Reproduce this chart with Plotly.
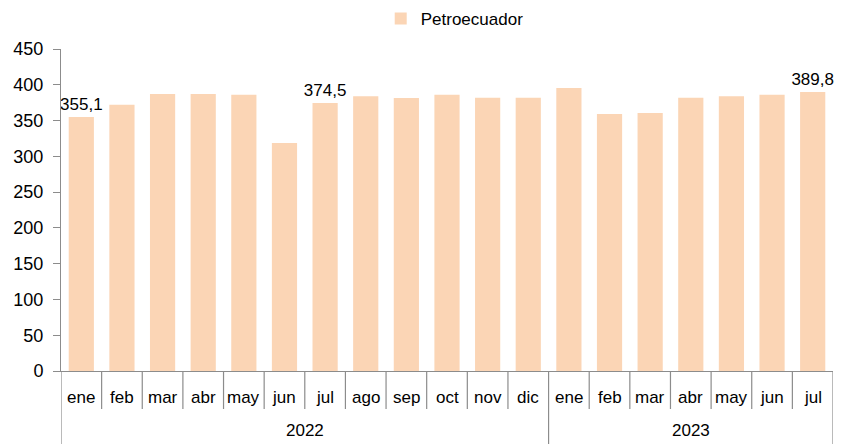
import plotly.graph_objects as go

years = ["2022"] * 12 + ["2023"] * 7
months = ["ene", "feb", "mar", "abr", "may", "jun", "jul", "ago", "sep", "oct", "nov", "dic",
          "ene", "feb", "mar", "abr", "may", "jun", "jul"]
petroecuador = [355.1, 372, 387, 387, 386, 318.5, 374.5, 384, 381.5, 386, 382, 382,
                395.5, 359, 360.5, 382, 384, 386, 389.8]
labeled = {0, 6, 18}

pos = list(range(len(months)))
labels = [f"{v:.1f}".replace(".", ",") if i in labeled else "" for i, v in enumerate(petroecuador)]

fig = go.Figure(go.Bar(
    x=pos,
    y=petroecuador,
    name="Petroecuador",
    marker=dict(color="#FBD5B5", line=dict(width=0)),
    text=labels,
    textposition="outside",
    constraintext="none",
    textfont=dict(size=17, color="black"),
    cliponaxis=False,
    showlegend=True,
))

# page body adds an 8px offset, so the figure is 8px smaller than the window
W, H = 834, 436
ml, mr, mt, mb = 53, 9, 41, 73
plot_h = H - mt - mb
grey = "#8C8C8C"

# month separators under the axis, year separators down to the bottom
for i in range(len(months) + 1):
    new_year = i == 0 or i == len(months) or years[i] != years[i - 1]
    depth = mb if new_year else 38
    fig.add_shape(type="line", xref="x", yref="paper", x0=i - 0.5, x1=i - 0.5,
                  y0=0, y1=-depth / plot_h, line=dict(color=grey, width=1.2))

for i, m in enumerate(months):
    fig.add_annotation(x=i, y=-26 / plot_h, xref="x", yref="paper", text=m,
                       showarrow=False, font=dict(size=17), yanchor="middle")

for yr in sorted(set(years)):
    idx = [i for i, y in enumerate(years) if y == yr]
    fig.add_annotation(x=(idx[0] + idx[-1]) / 2, y=-60 / plot_h, xref="x", yref="paper",
                       text=yr, showarrow=False, font=dict(size=17), yanchor="middle")

fig.update_layout(
    width=W, height=H,
    margin=dict(l=ml, r=mr, t=mt, b=mb, autoexpand=False),
    plot_bgcolor="white", paper_bgcolor="white",
    font=dict(family="Liberation Sans, Arial", size=16, color="black"),
    separators=",.",
    bargap=0.38,
    legend=dict(orientation="h", x=0.51, xanchor="center", yref="container",
                y=1 - 11 / H, yanchor="middle", font=dict(size=17)),
)

fig.update_yaxes(range=[0, 450], dtick=50, showgrid=False, showline=True,
                 linecolor=grey, ticks="outside", ticklen=7, tickcolor=grey,
                 ticklabelstandoff=6, zeroline=False, tickfont=dict(size=18),
                 automargin=False)
fig.update_xaxes(range=[-0.5, len(months) - 0.5], showline=True, linecolor=grey,
                 showticklabels=False, showgrid=False, zeroline=False, automargin=False)

fig.write_html("out.html")
